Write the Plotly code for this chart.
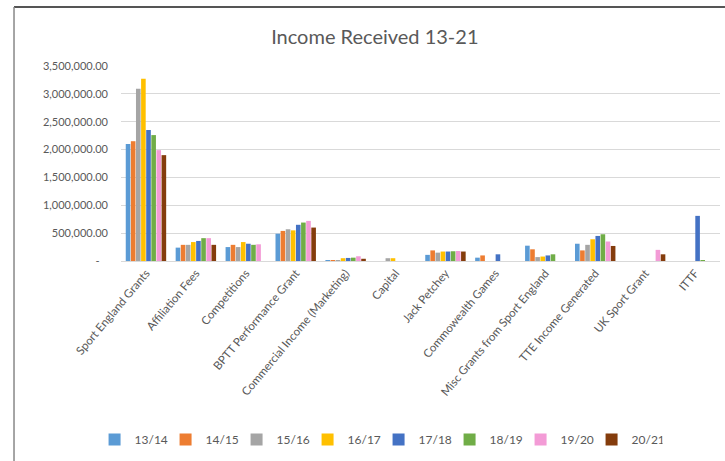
import plotly.graph_objects as go

categories = ["Sport England Grants", "Affiliation Fees", "Competitions", "BPTT Performance Grant",
              "Commercial Income (Marketing)", "Capital", "Jack Petchey", "Commowealth Games",
              "Misc Grants from Sport England", "TTE Income Generated", "UK Sport Grant", "ITTF"]

seasons = ["13/14", "14/15", "15/16", "16/17", "17/18", "18/19", "19/20", "20/21"]

v_13_14 = [2100000, 240000, 250000, 490000, 15000, 0, 110000, 60000, 275000, 310000, 0, 0]
v_14_15 = [2150000, 290000, 290000, 540000, 15000, 0, 190000, 100000, 210000, 190000, 0, 0]
v_15_16 = [3090000, 290000, 250000, 570000, 12000, 50000, 150000, 0, 70000, 290000, 0, 0]
v_16_17 = [3270000, 340000, 340000, 550000, 50000, 50000, 170000, 0, 80000, 390000, 0, 0]
v_17_18 = [2350000, 360000, 310000, 650000, 55000, 0, 170000, 120000, 100000, 450000, 0, 810000]
v_18_19 = [2260000, 410000, 290000, 690000, 60000, 0, 175000, 0, 120000, 480000, 0, 10000]
v_19_20 = [1990000, 410000, 300000, 720000, 85000, 0, 180000, 0, 0, 350000, 200000, 0]
v_20_21 = [1900000, 290000, 0, 600000, 40000, 0, 170000, 0, 0, 270000, 120000, 0]

series = [v_13_14, v_14_15, v_15_16, v_16_17, v_17_18, v_18_19, v_19_20, v_20_21]
colors = ["#5B9BD5", "#ED7D31", "#A5A5A5", "#FFC000", "#4472C4", "#70AD47", "#F39BD6", "#843C0C"]

y_ticks = [0, 500000, 1000000, 1500000, 2000000, 2500000, 3000000, 3500000]
y_ticktext = [" -   "] + [f"{v:,.2f}" for v in y_ticks[1:]]

FONT = "Lato"
GREY = "#595959"

fig = go.Figure()
for name, vals, col in zip(seasons, series, colors):
    fig.add_trace(go.Bar(name=name, x=categories, y=vals, marker=dict(color=col, line=dict(width=0))))

fig.update_layout(
    width=725, height=461,
    margin=dict(l=121, r=5, t=66, b=200),
    paper_bgcolor="white", plot_bgcolor="white",
    barmode="group", bargap=0.18, bargroupgap=0.1,
    font=dict(family=FONT, color=GREY, size=11),
    title=dict(text="Income Received 13-21", x=0.517, xanchor="center", y=0.92, yanchor="middle",
               xref="container", yref="container",
               font=dict(family=FONT, size=20, color=GREY)),
    showlegend=True,
    legend=dict(orientation="h", x=0.43, xanchor="center", y=-0.915, yanchor="middle",
                font=dict(family=FONT, size=12, color=GREY), itemwidth=30,
                entrywidth=26, entrywidthmode="pixels", traceorder="normal"),
)

fig.update_xaxes(tickangle=-50, tickfont=dict(family=FONT, size=11.5, color=GREY),
                 showline=True, linecolor="#D9D9D9", linewidth=1, ticks="", showgrid=False)
fig.update_yaxes(range=[0, 3500000], tickvals=y_ticks, ticktext=y_ticktext,
                 tickfont=dict(family=FONT, size=11, color=GREY),
                 showgrid=True, gridcolor="#D9D9D9", gridwidth=1, zeroline=False, ticks="",
                 ticklabelstandoff=12)

# outer frame (top and left edges)
fig.add_shape(type="line", xref="paper", yref="paper", x0=-0.1786, x1=1.0083, y0=1.3026, y1=1.3026,
              line=dict(color="#555555", width=2))
fig.add_shape(type="line", xref="paper", yref="paper", x0=-0.1786, x1=-0.1786, y0=1.3026, y1=-1.03,
              line=dict(color="#888888", width=1.5))

fig.write_html("out.html", config={"displayModeBar": False},
               post_script="document.body.style.margin='0';")
